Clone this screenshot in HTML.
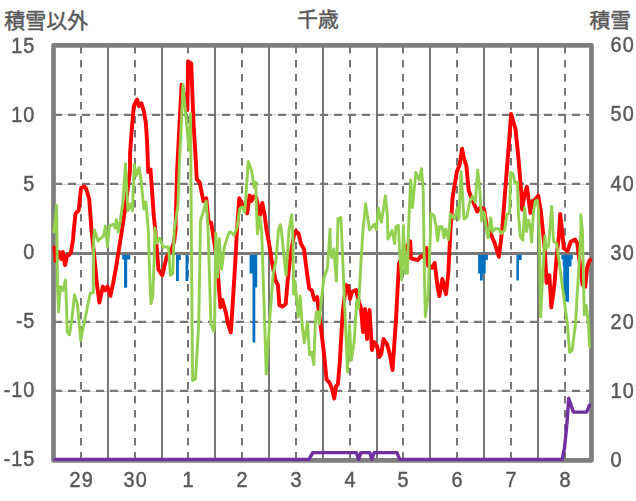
<!DOCTYPE html>
<html lang="ja"><head><meta charset="utf-8"><title>千歳</title>
<style>html,body{margin:0;padding:0;background:#fff;}svg{display:block;}text{font-family:"Liberation Sans",sans-serif;font-size:22.8px;fill:#595959;stroke:#595959;stroke-width:0.5px;}</style>
</head><body>
<svg width="636" height="501" viewBox="0 0 636 501">
<rect x="0" y="0" width="636" height="501" fill="#ffffff"/>
<line x1="53.5" y1="114.5" x2="591.5" y2="114.5" stroke="#d4d4d4" stroke-width="1"/>
<line x1="53.5" y1="184.5" x2="591.5" y2="184.5" stroke="#d4d4d4" stroke-width="1"/>
<line x1="53.5" y1="322.5" x2="591.5" y2="322.5" stroke="#d4d4d4" stroke-width="1"/>
<line x1="53.5" y1="391.5" x2="591.5" y2="391.5" stroke="#d4d4d4" stroke-width="1"/>
<line x1="53.5" y1="114.9" x2="591.5" y2="114.9" stroke="#777777" stroke-width="2.15" stroke-dasharray="8.1 5.9" stroke-dashoffset="-0.5"/>
<line x1="53.5" y1="183.8" x2="591.5" y2="183.8" stroke="#777777" stroke-width="2.15" stroke-dasharray="8.1 5.9" stroke-dashoffset="-0.5"/>
<line x1="53.5" y1="321.9" x2="591.5" y2="321.9" stroke="#777777" stroke-width="2.15" stroke-dasharray="8.1 5.9" stroke-dashoffset="-0.5"/>
<line x1="53.5" y1="390.8" x2="591.5" y2="390.8" stroke="#777777" stroke-width="2.15" stroke-dasharray="8.1 5.9" stroke-dashoffset="-0.5"/>
<line x1="81.0" y1="45.4" x2="81.0" y2="460.3" stroke="#777777" stroke-width="2" stroke-dasharray="7.5 6.5" stroke-dashoffset="-0.6"/>
<line x1="135.0" y1="45.4" x2="135.0" y2="460.3" stroke="#777777" stroke-width="2" stroke-dasharray="7.5 6.5" stroke-dashoffset="-0.6"/>
<line x1="188.0" y1="45.4" x2="188.0" y2="460.3" stroke="#777777" stroke-width="2" stroke-dasharray="7.5 6.5" stroke-dashoffset="-0.6"/>
<line x1="242.0" y1="45.4" x2="242.0" y2="460.3" stroke="#777777" stroke-width="2" stroke-dasharray="7.5 6.5" stroke-dashoffset="-0.6"/>
<line x1="296.0" y1="45.4" x2="296.0" y2="460.3" stroke="#777777" stroke-width="2" stroke-dasharray="7.5 6.5" stroke-dashoffset="-0.6"/>
<line x1="350.0" y1="45.4" x2="350.0" y2="460.3" stroke="#777777" stroke-width="2" stroke-dasharray="7.5 6.5" stroke-dashoffset="-0.6"/>
<line x1="403.0" y1="45.4" x2="403.0" y2="460.3" stroke="#777777" stroke-width="2" stroke-dasharray="7.5 6.5" stroke-dashoffset="-0.6"/>
<line x1="457.0" y1="45.4" x2="457.0" y2="460.3" stroke="#777777" stroke-width="2" stroke-dasharray="7.5 6.5" stroke-dashoffset="-0.6"/>
<line x1="511.0" y1="45.4" x2="511.0" y2="460.3" stroke="#777777" stroke-width="2" stroke-dasharray="7.5 6.5" stroke-dashoffset="-0.6"/>
<line x1="565.0" y1="45.4" x2="565.0" y2="460.3" stroke="#777777" stroke-width="2" stroke-dasharray="7.5 6.5" stroke-dashoffset="-0.6"/>
<line x1="108.0" y1="45.4" x2="108.0" y2="460.3" stroke="#777777" stroke-width="2"/>
<line x1="162.0" y1="45.4" x2="162.0" y2="460.3" stroke="#777777" stroke-width="2"/>
<line x1="215.0" y1="45.4" x2="215.0" y2="460.3" stroke="#777777" stroke-width="2"/>
<line x1="269.0" y1="45.4" x2="269.0" y2="460.3" stroke="#777777" stroke-width="2"/>
<line x1="323.0" y1="45.4" x2="323.0" y2="460.3" stroke="#777777" stroke-width="2"/>
<line x1="377.0" y1="45.4" x2="377.0" y2="460.3" stroke="#777777" stroke-width="2"/>
<line x1="430.0" y1="45.4" x2="430.0" y2="460.3" stroke="#777777" stroke-width="2"/>
<line x1="484.0" y1="45.4" x2="484.0" y2="460.3" stroke="#777777" stroke-width="2"/>
<line x1="538.0" y1="45.4" x2="538.0" y2="460.3" stroke="#777777" stroke-width="2"/>
<rect x="53.5" y="45.4" width="538.0" height="414.9" fill="none" stroke="#7f7f7f" stroke-width="4.7" stroke-linejoin="round"/>
<path d="M122.2,253.5 L130.2,253.5 L130.2,259.6 L127.2,259.6 L127.2,287.8 L124.0,287.8 L124.0,259.6 L122.2,259.6 Z" fill="#0070c0"/>
<path d="M176.0,253.5 L180.8,253.5 L180.8,260.0 L178.9,260.0 L178.9,281.0 L176.0,281.0 Z" fill="#0070c0"/>
<path d="M185.5,253.5 L188.3,253.5 L188.3,281.0 L185.5,281.0 Z" fill="#0070c0"/>
<path d="M249.6,253.5 L257.2,253.5 L257.2,287.5 L255.3,287.5 L255.3,342.5 L252.5,342.5 L252.5,273.4 L249.6,273.4 Z" fill="#0070c0"/>
<path d="M478.1,253.5 L487.9,253.5 L487.9,260.0 L485.7,260.0 L485.7,273.4 L482.8,273.4 L482.8,280.6 L480.0,280.6 L480.0,273.4 L478.1,273.4 Z" fill="#0070c0"/>
<path d="M516.4,253.5 L521.7,253.5 L521.7,260.0 L518.9,260.0 L518.9,280.6 L516.4,280.6 Z" fill="#0070c0"/>
<path d="M561.4,253.5 L572.8,253.5 L572.8,259.6 L571.5,259.6 L571.5,266.5 L569.0,266.5 L569.0,301.7 L565.3,301.7 L565.3,295.0 L563.3,295.0 L563.3,266.5 L562.7,266.5 L562.7,259.6 L561.4,259.6 Z" fill="#0070c0"/>
<line x1="53.5" y1="253.5" x2="591.5" y2="253.5" stroke="#7a7a7a" stroke-width="3"/>
<polyline fill="none" stroke="#ff0000" stroke-width="3.9" stroke-linejoin="round" stroke-linecap="round" points="54.4,247.5 55.8,261.0 59.2,252.0 61.2,259.0 62.8,252.0 65.1,265.2 67.2,255.1 69.0,255.1 70.8,252.6 73.0,240.0 73.8,230.0 75.5,213.8 78.7,210.1 81.1,187.9 84.0,186.4 86.2,188.9 89.2,199.0 91.5,230.0 94.3,256.4 97.2,286.6 99.4,302.6 102.8,286.6 105.1,290.4 107.5,286.6 110.4,296.0 113.2,282.8 116.0,267.7 122.0,230.0 126.0,202.7 130.0,170.8 130.1,152.6 131.9,127.7 133.8,106.4 136.4,100.3 137.1,99.6 138.9,106.2 141.4,103.4 143.9,111.4 145.8,122.7 147.0,140.3 148.2,172.0 150.5,169.5 153.9,217.0 155.3,230.0 156.6,247.0 158.5,269.6 162.3,275.3 166.6,257.0 171.3,250.8 174.2,241.3 175.5,230.0 177.0,173.7 178.9,136.0 181.6,84.7 187.4,110.0 188.1,61.3 191.2,63.3 193.6,125.0 195.3,152.0 196.8,179.4 199.6,182.2 203.4,201.1 206.2,198.3 208.7,222.8 211.3,222.8 212.3,230.0 214.7,245.0 217.5,267.7 220.4,307.4 222.3,299.8 226.0,313.0 228.0,324.0 230.8,332.5 232.6,305.5 235.5,258.3 237.0,230.0 239.2,198.3 241.5,202.0 243.0,207.7 247.2,213.4 249.6,195.4 251.5,201.1 253.4,196.4 256.2,197.3 260.0,215.2 262.3,203.0 264.7,215.2 266.5,230.0 269.4,245.0 271.9,262.0 275.7,281.0 277.9,284.7 279.4,305.3 282.6,306.6 285.7,304.0 287.6,281.4 289.7,262.0 292.2,245.0 294.5,233.0 295.8,231.0 298.8,234.0 300.8,243.5 304.0,249.0 306.8,271.5 309.2,288.5 311.9,290.4 314.3,299.8 317.2,297.0 319.0,313.0 320.5,324.0 323.8,352.3 326.6,379.7 329.4,382.5 331.9,388.2 334.2,398.5 336.0,386.3 337.9,384.4 339.8,361.7 342.0,324.0 343.0,310.0 346.0,285.0 348.0,286.0 350.0,299.0 352.0,292.0 356.0,290.0 359.0,302.0 361.0,308.0 363.0,332.0 365.0,309.0 367.0,339.0 369.5,310.0 372.0,350.0 374.0,342.0 377.0,346.0 379.3,357.0 381.3,354.0 383.5,339.0 387.0,344.0 390.0,355.0 392.5,370.0 396.0,320.0 398.9,264.0 406.4,247.0 410.2,241.3 411.1,258.3 417.7,260.2 420.6,256.4 423.0,257.0 426.2,247.9 428.1,265.8 431.9,267.7 434.7,263.0 437.5,286.6 439.4,296.0 442.3,279.0 446.0,294.2 448.3,273.4 450.0,239.4 450.6,228.0 452.6,197.5 456.8,172.0 459.6,164.8 462.1,148.8 464.0,158.6 466.4,166.2 468.7,190.7 472.5,200.2 477.2,211.5 480.0,207.7 483.8,208.6 485.7,219.0 487.5,230.0 490.0,231.9 494.7,243.2 498.9,256.8 501.0,240.0 502.4,226.4 504.5,200.0 506.8,170.0 509.2,140.0 511.1,114.0 515.5,129.0 518.3,156.8 521.1,190.0 522.1,209.5 524.2,196.0 526.9,186.8 528.7,200.2 530.4,213.0 532.6,201.0 535.3,199.5 538.2,195.6 540.9,211.5 542.8,230.0 544.7,248.9 546.6,282.8 549.4,275.3 551.3,307.4 554.2,286.6 557.0,252.6 558.9,235.7 560.2,214.0 562.2,232.0 563.8,248.5 567.5,251.0 570.7,241.8 575.1,239.5 577.3,243.5 578.8,256.0 580.6,267.7 582.5,284.7 585.3,286.6 587.2,267.5 589.0,261.5 590.3,259.8"/>
<polyline fill="none" stroke="#92d050" stroke-width="2.9" stroke-linejoin="round" stroke-linecap="round" points="54.0,232.0 56.6,205.5 57.5,286.6 58.5,312.0 60.4,286.6 62.8,290.4 65.5,280.0 66.6,309.2 67.2,331.5 69.5,334.8 71.7,320.0 74.5,295.0 77.4,303.6 80.7,340.3 90.2,293.3 93.3,292.8 93.7,239.4 94.3,229.8 98.1,241.0 103.8,235.5 105.3,226.0 107.5,246.5 109.4,226.0 113.2,224.2 115.1,228.0 116.4,219.8 118.2,232.0 120.4,220.3 122.8,202.7 125.5,163.6 127.9,210.7 130.4,204.3 132.4,210.7 134.3,164.4 136.4,175.6 139.2,167.6 141.2,182.0 143.9,209.0 145.9,202.0 148.3,229.5 149.0,254.5 150.9,303.6 152.8,296.0 154.2,258.3 154.9,228.0 156.6,243.0 159.4,238.0 163.2,247.0 168.5,247.0 170.4,275.3 172.8,273.4 174.2,230.0 177.9,205.8 179.8,154.9 180.8,136.0 183.0,84.7 189.0,150.0 190.6,113.7 191.3,230.0 192.1,324.0 192.6,380.6 195.5,378.7 198.7,324.0 200.2,240.0 200.4,221.5 206.2,201.1 208.1,230.0 210.9,324.0 213.8,331.5 214.6,324.0 215.7,233.0 217.6,277.0 219.3,238.6 221.6,269.2 224.5,246.4 229.0,232.6 230.8,232.0 234.0,235.2 237.1,227.6 239.7,208.8 242.2,206.9 244.7,212.5 245.9,196.0 248.3,161.4 251.5,170.0 254.0,187.0 255.8,182.2 256.3,205.0 257.5,234.0 259.8,217.0 261.7,231.0 264.7,324.0 266.2,374.0 269.4,324.0 273.2,273.4 276.0,260.2 278.5,230.0 280.4,224.7 281.3,230.0 286.0,275.3 289.0,230.0 291.7,214.6 293.0,240.0 293.6,294.2 294.9,281.0 298.3,316.8 300.2,296.0 302.1,324.0 304.3,342.9 307.5,322.6 309.6,355.0 311.9,352.3 313.8,364.6 315.2,325.0 316.4,312.0 318.3,312.0 319.2,324.0 321.3,300.0 323.8,279.0 327.5,267.7 330.0,229.3 330.4,248.9 331.9,257.4 333.8,248.9 336.4,281.0 338.0,218.7 340.8,217.6 341.5,230.0 344.5,301.7 347.5,372.0 349.5,325.0 351.4,360.0 354.0,343.0 356.8,300.0 358.5,308.0 361.5,252.6 363.0,230.0 365.6,203.8 369.5,229.7 374.5,224.2 376.4,229.7 378.3,208.3 381.4,222.2 385.5,195.8 387.3,215.0 388.0,239.0 392.1,230.5 394.6,243.5 395.9,226.5 398.4,225.3 399.4,248.9 401.7,280.0 403.4,225.5 405.5,273.4 407.4,273.4 408.5,230.0 410.6,180.0 412.5,207.7 415.8,172.4 419.2,180.0 421.5,168.8 423.2,190.0 424.3,267.7 425.3,316.8 428.1,296.0 430.5,230.0 430.9,213.4 433.8,215.2 436.2,226.6 437.6,240.9 439.5,226.6 442.0,226.6 443.9,237.8 445.8,229.0 448.3,239.7 449.4,228.0 450.3,213.9 454.5,219.0 457.4,207.7 458.9,219.0 461.1,171.8 464.0,219.0 466.8,217.1 469.6,202.0 472.5,196.4 475.3,202.0 477.7,170.0 480.0,192.6 481.6,221.0 483.4,212.0 484.6,214.0 486.9,232.7 488.2,237.8 490.7,217.6 492.6,231.5 495.7,228.5 498.9,229.2 501.4,233.4 504.5,230.2 507.0,214.5 509.6,212.6 510.8,172.4 513.0,173.7 514.9,183.2 517.4,182.2 518.4,213.9 520.3,236.5 522.8,240.3 524.7,207.6 526.5,231.5 528.4,220.2 530.3,226.4 531.6,242.2 533.5,211.4 535.3,201.3 537.2,200.0 538.5,210.0 539.7,257.6 540.6,316.8 544.8,236.0 546.0,249.0 548.6,245.9 551.7,206.5 553.6,241.5 556.7,243.4 567.4,324.0 569.6,352.3 572.1,350.4 575.5,324.0 581.0,230.0 580.8,214.6 582.4,230.0 584.3,315.0 586.2,305.5 588.5,324.0 589.6,346.6"/>
<polyline fill="none" stroke="#7030a0" stroke-width="3.4" stroke-linejoin="round" stroke-linecap="round" points="55.0,459.4 309.0,459.4 312.8,452.6 356.3,452.6 358.6,459.4 360.9,452.6 369.7,452.6 371.9,459.4 374.1,452.6 397.0,452.6 399.6,459.4 562.2,459.4 564.5,447.9 566.8,425.3 568.7,398.2 573.4,412.1 586.6,412.1 589.4,405.2"/>
<text x="4.2" y="28.2" style="font-family:'Liberation Sans','Noto Sans CJK JP',sans-serif;font-size:21px;">積雪以外</text>
<text x="297.35" y="27.15" style="font-family:'Liberation Sans','Noto Sans CJK JP',sans-serif;font-size:20.7px;">千歳</text>
<text x="589.5" y="28" style="font-family:'Liberation Sans','Noto Sans CJK JP',sans-serif;font-size:20.8px;">積雪</text>
<defs><filter id="nf" x="0" y="0" width="100%" height="100%" filterUnits="objectBoundingBox"><feOffset dx="0" dy="0"/></filter></defs><g filter="url(#nf)">
<text transform="scale(0.870,1)" x="12.89 26.83" y="52.6">15</text>
<text transform="scale(0.870,1)" x="12.89 26.83" y="121.6">10</text>
<text transform="scale(0.870,1)" x="26.83" y="190.6">5</text>
<text transform="scale(0.870,1)" x="26.83" y="259.5">0</text>
<text transform="scale(0.870,1)" x="18.36 26.83" y="328.4">-5</text>
<text transform="scale(0.870,1)" x="4.41 12.89 26.83" y="397.4">-10</text>
<text transform="scale(0.870,1)" x="4.41 12.89 26.83" y="466.4">-15</text>
<text transform="scale(0.870,1)" x="701.87 715.81" y="52.5">60</text>
<text transform="scale(0.870,1)" x="701.87 715.81" y="121.5">50</text>
<text transform="scale(0.870,1)" x="701.87 715.81" y="190.6">40</text>
<text transform="scale(0.870,1)" x="701.87 715.81" y="259.6">30</text>
<text transform="scale(0.870,1)" x="701.87 715.81" y="328.6">20</text>
<text transform="scale(0.870,1)" x="701.87 715.81" y="397.6">10</text>
<text transform="scale(0.870,1)" x="701.87" y="466.7">0</text>
<text transform="scale(0.870,1)" x="79.91 93.85" y="487.2">29</text>
<text transform="scale(0.870,1)" x="141.98 155.92" y="487.2">30</text>
<text transform="scale(0.870,1)" x="209.87" y="487.2">1</text>
<text transform="scale(0.870,1)" x="271.94" y="487.2">2</text>
<text transform="scale(0.870,1)" x="334.00" y="487.2">3</text>
<text transform="scale(0.870,1)" x="396.07" y="487.2">4</text>
<text transform="scale(0.870,1)" x="456.99" y="487.2">5</text>
<text transform="scale(0.870,1)" x="519.06" y="487.2">6</text>
<text transform="scale(0.870,1)" x="581.13" y="487.2">7</text>
<text transform="scale(0.870,1)" x="643.20" y="487.2">8</text>
</g>
</svg></body></html>
